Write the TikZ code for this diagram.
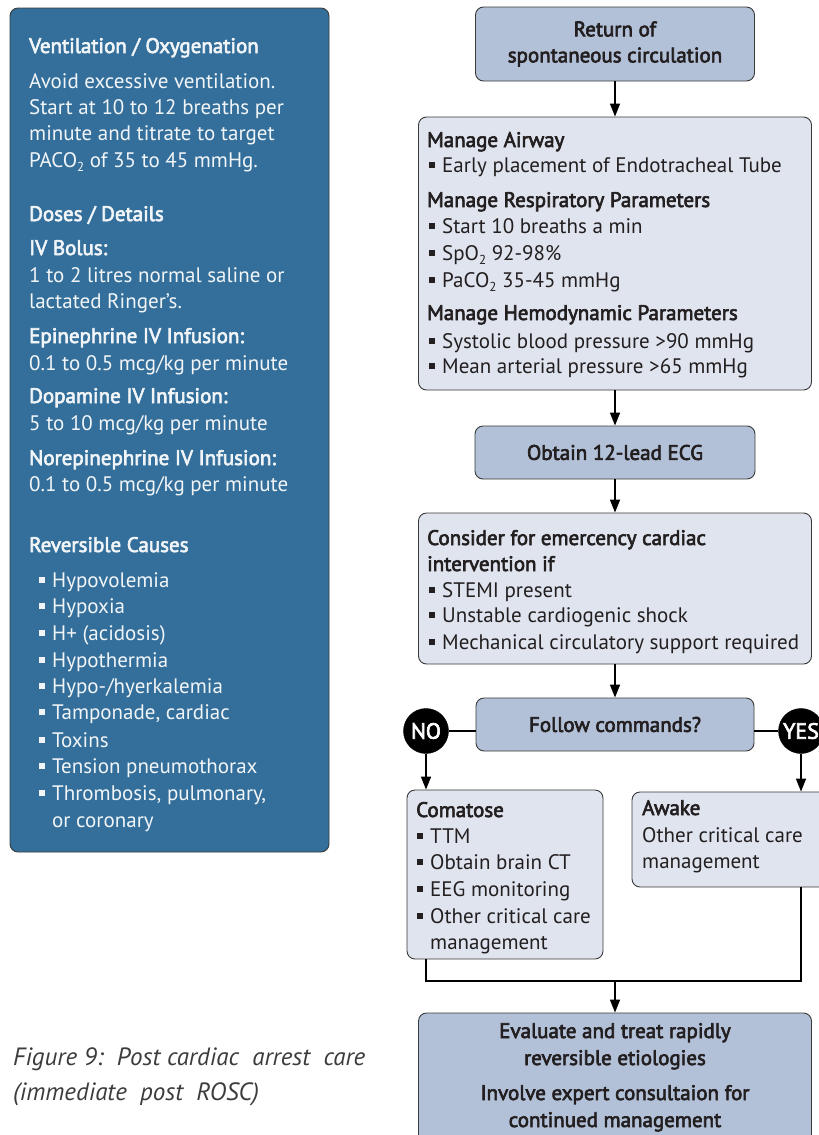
\documentclass[tikz,border=0pt]{standalone}
\usepackage{fontspec}
\setmainfont{PT Sans}
\newfontfamily\mymed{PT Sans}[FakeBold=3]
\usetikzlibrary{arrows.meta}
\definecolor{panelblue}{HTML}{336F9A}
\definecolor{paneltext}{HTML}{F2F5F8}
\definecolor{darkfill}{HTML}{B3C1D8}
\definecolor{lightfill}{HTML}{DFE4EE}
\definecolor{boxline}{HTML}{3A3A3A}
\definecolor{ink}{HTML}{231F20}
\definecolor{captiongray}{HTML}{3C3C3C}
\newcommand\mybul{\llap{\rule[4pt]{6pt}{6pt}\hspace{7pt}}}
\newcommand\mysub[1]{\raisebox{-4pt}{\fontsize{13}{13}\selectfont #1}}
\begin{document}
\begin{tikzpicture}[x=1pt,y=-1pt,
  every node/.style={font=\fontsize{21}{26}\selectfont},
  hd/.style={font=\fontsize{21}{26}\selectfont\mymed},
  ln/.style={anchor=base west,inner sep=0pt,text=ink},
  lnw/.style={anchor=base west,inner sep=0pt,text=paneltext},
  lnc/.style={anchor=base,inner sep=0pt,text=ink},
  panel/.style={draw=boxline,fill=panelblue,rounded corners=8pt,line width=0.9pt,inner sep=0pt},
  darkbox/.style={draw=boxline,fill=darkfill,rounded corners=8pt,line width=0.9pt,inner sep=0pt,text=ink,align=center},
  lightbox/.style={draw=boxline,fill=lightfill,rounded corners=8pt,line width=0.9pt,inner sep=0pt},
  link/.style={draw=black,line width=1.6pt},
  arr/.style={link,-{Triangle[length=13pt,width=10pt]}},
  yn/.style={circle,fill=black,draw=black,minimum size=45pt,inner sep=0pt,text=white,font=\fontsize{22}{26}\selectfont\mymed}
]
\clip (0,0) rectangle (819,1135);
\fill[white] (0,0) rectangle (819,1135);

% ---------- left panel ----------
\node[panel,minimum width=319pt,minimum height=844pt] (lp) at (169.5,430) {};
\node[lnw,hd] (v1) at (29,53) {Ventilation / Oxygenation};
\node[lnw] (v2) at (29,88) {Avoid excessive ventilation.};
\node[lnw] (v3) at (29,114) {Start at 10 to 12 breaths per};
\node[lnw] (v4) at (29,140) {minute and titrate to target};
\node[lnw] (v5) at (29,167) {PACO\mysub{2} of 35 to 45 mmHg.};
\node[lnw,hd] (d1) at (29,221) {Doses / Details};
\node[lnw,hd] (d2) at (29,255) {IV Bolus:};
\node[lnw] (d3) at (29,282) {1 to 2 litres normal saline or};
\node[lnw] (d4) at (29,308) {lactated Ringer's.};
\node[lnw,hd] (d5) at (29,343) {Epinephrine IV Infusion:};
\node[lnw] (d6) at (29,370) {0.1 to 0.5 mcg/kg per minute};
\node[lnw,hd] (d7) at (29,403) {Dopamine IV Infusion:};
\node[lnw] (d8) at (29,430) {5 to 10 mcg/kg per minute};
\node[lnw,hd] (d9) at (29,465) {Norepinephrine IV Infusion:};
\node[lnw] (d10) at (29,491) {0.1 to 0.5 mcg/kg per minute};
\node[lnw,hd] (r0) at (29,552) {Reversible Causes};
\node[lnw] (r1) at (52,587) {\mybul Hypovolemia};
\node[lnw] (r2) at (52,613) {\mybul Hypoxia};
\node[lnw] (r3) at (52,640) {\mybul H+ (acidosis)};
\node[lnw] (r4) at (52,667) {\mybul Hypothermia};
\node[lnw] (r5) at (52,693) {\mybul Hypo-/hyerkalemia};
\node[lnw] (r6) at (52,719) {\mybul Tamponade, cardiac};
\node[lnw] (r7) at (52,747) {\mybul Toxins};
\node[lnw] (r8) at (52,773) {\mybul Tension pneumothorax};
\node[lnw] (r9) at (52,800) {\mybul Thrombosis, pulmonary,};
\node[lnw] (r10) at (52,827) {or coronary};

% ---------- caption ----------
\node[anchor=base west,inner sep=0pt,text=captiongray,font=\fontsize{25}{30}\selectfont\itshape] (cap1) at (13,1065) {Figure 9:\ \ Post cardiac\ \ arrest\ \ care};
\node[anchor=base west,inner sep=0pt,text=captiongray,font=\fontsize{25}{30}\selectfont\itshape] (cap2) at (13,1100) {(immediate\ \ post\ \ ROSC)};

% ---------- flow boxes ----------
\node[darkbox,hd,minimum width=279pt,minimum height=74pt] (b1) at (615,44) {Return of\\spontaneous circulation};
\node[lightbox,minimum width=393pt,minimum height=273pt] (b2) at (615,253.5) {};
\node[darkbox,hd,minimum width=280pt,minimum height=53pt] (b3) at (615,452.5) {Obtain 12-lead ECG};
\node[lightbox,minimum width=393pt,minimum height=151pt] (b4) at (615,588.5) {};
\node[darkbox,hd,minimum width=278pt,minimum height=53pt] (b5) at (615,724.5) {Follow commands?};
\node[lightbox,minimum width=196pt,minimum height=169pt] (b6) at (505,874.5) {};
\node[lightbox,minimum width=210pt,minimum height=95pt] (b7) at (737,839.5) {};
\node[darkbox,minimum width=393pt,minimum height=140pt] (b8) at (615,1083) {};

% texts of box 2
\node[ln,hd] (t21) at (427,147) {Manage Airway};
\node[ln] (t22) at (442,172) {\mybul Early placement of Endotracheal Tube};
\node[ln,hd] (t23) at (427,207) {Manage Respiratory Parameters};
\node[ln] (t24) at (442,233) {\mybul Start 10 breaths a min};
\node[ln] (t25) at (442,260) {\mybul SpO\mysub{2} 92-98\%};
\node[ln] (t26) at (442,287) {\mybul PaCO\mysub{2} 35-45 mmHg};
\node[ln,hd] (t27) at (427,320) {Manage Hemodynamic Parameters};
\node[ln] (t28) at (442,348) {\mybul Systolic blood pressure >90 mmHg};
\node[ln] (t29) at (442,373) {\mybul Mean arterial pressure >65 mmHg};

% texts of box 4
\node[ln,hd] (t41) at (427,545) {Consider for emercency cardiac};
\node[ln,hd] (t42) at (427,571) {intervention if};
\node[ln] (t43) at (442,597) {\mybul STEMI present};
\node[ln] (t44) at (442,622) {\mybul Unstable cardiogenic shock};
\node[ln] (t45) at (442,649) {\mybul Mechanical circulatory support required};

% texts of box 6
\node[ln,hd] (t61) at (416,817) {Comatose};
\node[ln] (t62) at (430,843) {\mybul TTM};
\node[ln] (t63) at (430,869) {\mybul Obtain brain CT};
\node[ln] (t64) at (430,896) {\mybul EEG monitoring};
\node[ln] (t65) at (430,923) {\mybul Other critical care};
\node[ln] (t66) at (430,949) {management};

% texts of box 7
\node[ln,hd] (t71) at (642,815) {Awake};
\node[ln] (t72) at (642,842) {Other critical care};
\node[ln] (t73) at (642,868) {management};

% texts of box 8
\node[lnc,hd] (t81) at (615,1038) {Evaluate and treat rapidly};
\node[lnc,hd] (t82) at (615,1065) {reversible etiologies};
\node[lnc,hd] (t83) at (615,1100) {Involve expert consultaion for};
\node[lnc,hd] (t84) at (615,1127) {continued management};

% ---------- decision circles ----------
\node[yn] (no) at (426,731) {NO};
\node[yn] (yes) at (801,731) {YES};

% ---------- connectors ----------
\draw[arr] (b1) -- (b2);
\draw[arr] (b2) -- (b3);
\draw[arr] (b3) -- (b4);
\draw[arr] (b4) -- (b5);
\draw[link] (no.east) -- (no.east -| b5.west);
\draw[link] (yes.west) -- (yes.west -| b5.east);
\draw[arr] (no) -- (no |- b6.north);
\draw[arr] (yes) -- (yes |- b7.north);
\coordinate (j) at (615,981);
\draw[link] (no |- b6.south) |- (j) -| (yes |- b7.south);
\draw[arr] (j) -- (b8);
\end{tikzpicture}
\end{document}
